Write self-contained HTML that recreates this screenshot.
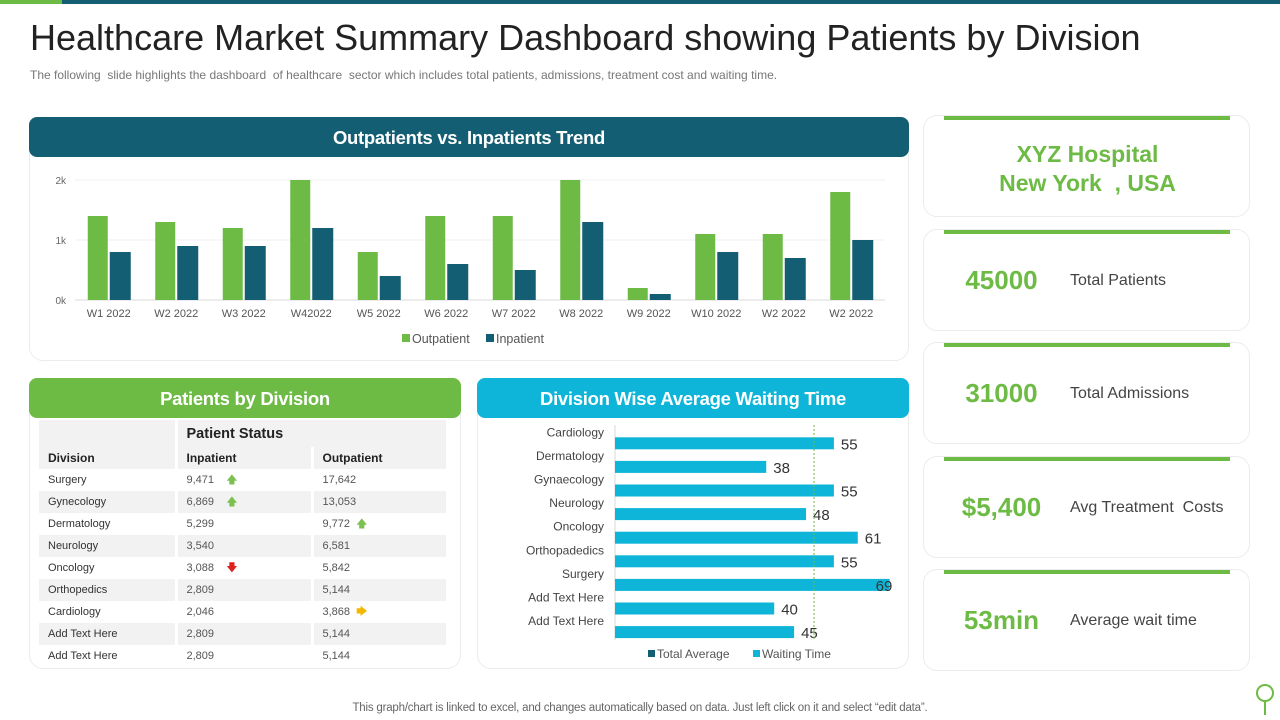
<!DOCTYPE html>
<html><head><meta charset="utf-8">
<style>
*{margin:0;padding:0;box-sizing:border-box}
body{width:1280px;height:720px;background:#fff;position:relative;overflow:hidden;font-family:"Liberation Sans",sans-serif;color:#333}
.abs{position:absolute}
.card{position:absolute;border:1px solid #ececec;border-radius:14px;background:#fff}
.hdr{position:absolute;color:#fff;font-weight:bold;font-size:18.5px;text-align:center;border-radius:8px;letter-spacing:-0.3px}
table{border-collapse:collapse;font-size:11px}
td{height:22px;padding-left:9px;border-right:3px solid #fff}
.kv{position:absolute;left:923px;width:327px;height:102px}
.kv .bar{position:absolute;left:20px;width:286px;top:0;height:4px;background:#6dba45}
.kv .num{position:absolute;left:0;width:155px;text-align:center;top:35px;font-size:26px;font-weight:bold;color:#6dba45}
.kv .lbl{position:absolute;left:146px;top:42px;font-size:16px;color:#444}
</style></head><body>
<div class="abs" style="left:0;top:0;width:62px;height:4px;background:#6dba45"></div>
<div class="abs" style="left:62px;top:0;width:1218px;height:4px;background:#135e72"></div>
<div class="abs" style="left:30px;top:17px;font-size:36px;color:#222;white-space:nowrap;">Healthcare Market Summary Dashboard showing Patients by Division</div>
<div class="abs" style="left:30px;top:68px;font-size:12px;color:#777;white-space:nowrap">The following &nbsp;slide highlights the dashboard &nbsp;of healthcare &nbsp;sector which includes total patients, admissions, treatment cost and waiting time.</div>

<div class="card" style="left:29px;top:120px;width:880px;height:241px"></div>
<div class="hdr" style="left:29px;top:117px;width:880px;height:40px;line-height:42px;background:#135e72">Outpatients vs. Inpatients Trend</div>
<svg class="abs" id="trend" style="left:0;top:0" width="920" height="360"></svg>

<div class="card" style="left:29px;top:385px;width:432px;height:284px"></div>
<div class="hdr" style="left:29px;top:378px;width:432px;height:40px;line-height:41px;background:#6dba45">Patients by Division</div>
<table class="abs" style="left:39px;top:420px;width:410px">
<tr style="background:#f2f2f2;height:27px"><td style="height:27px"></td><td colspan="2" style="font-weight:bold;font-size:14.5px;color:#222">Patient Status</td></tr>
<tr style="background:#f2f2f2;font-weight:bold;color:#222;font-size:12px"><td style="height:21px;width:137px">Division</td><td style="width:136px">Inpatient</td><td>Outpatient</td></tr>
<tr><td>Surgery</td><td style="color:#555">9,471 &nbsp;&nbsp;&nbsp;<span style="color:#7cc04f">🡅</span></td><td style="color:#555">17,642</td></tr>
<tr style="background:#f2f2f2"><td>Gynecology</td><td style="color:#555">6,869 &nbsp;&nbsp;&nbsp;<span style="color:#7cc04f">🡅</span></td><td style="color:#555">13,053</td></tr>
<tr><td>Dermatology</td><td style="color:#555">5,299</td><td style="color:#555">9,772 &nbsp;<span style="color:#7cc04f">🡅</span></td></tr>
<tr style="background:#f2f2f2"><td>Neurology</td><td style="color:#555">3,540</td><td style="color:#555">6,581</td></tr>
<tr><td>Oncology</td><td style="color:#555">3,088 &nbsp;&nbsp;&nbsp;<span style="color:#e02020">🡇</span></td><td style="color:#555">5,842</td></tr>
<tr style="background:#f2f2f2"><td>Orthopedics</td><td style="color:#555">2,809</td><td style="color:#555">5,144</td></tr>
<tr><td>Cardiology</td><td style="color:#555">2,046</td><td style="color:#555">3,868 &nbsp;<span style="color:#f5b800">🡆</span></td></tr>
<tr style="background:#f2f2f2"><td>Add Text Here</td><td style="color:#555">2,809</td><td style="color:#555">5,144</td></tr>
<tr><td>Add Text Here</td><td style="color:#555">2,809</td><td style="color:#555">5,144</td></tr>
</table>

<div class="card" style="left:477px;top:385px;width:432px;height:284px"></div>
<div class="hdr" style="left:477px;top:378px;width:432px;height:40px;line-height:41px;background:#0fb5d8">Division Wise Average Waiting Time</div>
<svg class="abs" id="wait" style="left:0;top:0" width="920" height="680"></svg>

<div class="card kv" style="top:115px"><div class="bar"></div><div class="abs" style="left:0;width:327px;top:24px;text-align:center;color:#6dba45;font-weight:bold;font-size:23px;line-height:29px">XYZ Hospital<br>New York &nbsp;, USA</div></div>
<div class="card kv" style="top:229px"><div class="bar"></div><div class="num">45000</div><div class="lbl">Total Patients</div></div>
<div class="card kv" style="top:342px"><div class="bar"></div><div class="num">31000</div><div class="lbl">Total Admissions</div></div>
<div class="card kv" style="top:456px"><div class="bar"></div><div class="num">$5,400</div><div class="lbl">Avg Treatment &nbsp;Costs</div></div>
<div class="card kv" style="top:569px"><div class="bar"></div><div class="num">53min</div><div class="lbl">Average wait time</div></div>

<div class="abs" style="left:0;width:1280px;top:702px;text-align:center;font-size:11.5px;color:#666;letter-spacing:-0.2px">This graph/chart is linked to excel, and changes automatically based on data. Just left click on it and select “edit data”.</div>
<svg class="abs" style="left:1254px;top:682px" width="24" height="36"><circle cx="11" cy="11" r="8" fill="none" stroke="#6dba45" stroke-width="2"/><path d="M11 19v14" stroke="#6dba45" stroke-width="2"/></svg>

<script>
const weeks=["W1 2022","W2 2022","W3 2022","W42022","W5 2022","W6 2022","W7 2022","W8 2022","W9 2022","W10 2022","W2 2022","W2 2022"];
const outpatient=[1400,1300,1200,2000,800,1400,1400,2000,200,1100,1100,1800];
const inpatient=[800,900,900,1200,400,600,500,1300,100,800,700,1000];
const yTicks=[0,1000,2000];
const yTickLabels=["0k","1k","2k"];
const divisions=["Cardiology","Dermatology","Gynaecology","Neurology","Oncology","Orthopadedics","Surgery","Add Text Here","Add Text Here"];
const waitTimes=[55,38,55,48,61,55,69,40,45];
const totalAverage=[50];
const NS="http://www.w3.org/2000/svg";
function mk(svg,tag,attrs,text){const e=document.createElementNS(NS,tag);for(const k in attrs)e.setAttribute(k,attrs[k]);if(text!==undefined)e.textContent=text;svg.appendChild(e);return e;}
const t=document.getElementById('trend');
const x0=75,x1=885,yb=300,yt=180,ymax=2000;
const yS=v=>yb-(v/ymax)*(yb-yt);
const gw=(x1-x0)/weeks.length;
yTicks.forEach((v,i)=>{
 const g=mk(t,'line',{x1:x0,x2:x1,y1:yS(v),y2:yS(v),stroke:i==0?'#d9d9d9':'#efefef'});
 
 const l=mk(t,'text',{x:66,y:yS(v)+4,'text-anchor':'end','font-size':10,fill:'#666'},yTickLabels[i]);
 
});
weeks.forEach((w,i)=>{
 const c=x0+gw*(i+0.5);
 const b1=mk(t,'rect',{x:c-21,y:yS(outpatient[i]),width:20,height:yb-yS(outpatient[i]),fill:'#6dba45'});
 
 const b2=mk(t,'rect',{x:c+1,y:yS(inpatient[i]),width:21,height:yb-yS(inpatient[i]),fill:'#135e72'});
 
 const l=mk(t,'text',{x:c,y:317,'text-anchor':'middle','font-size':11,fill:'#555'},w);
 
});
let lg=mk(t,'rect',{x:402,y:334,width:8,height:8,fill:'#6dba45'});
lg=mk(t,'text',{x:412,y:343,'font-size':12.5,fill:'#555'},'Outpatient');
lg=mk(t,'rect',{x:486,y:334,width:8,height:8,fill:'#135e72'});
lg=mk(t,'text',{x:496,y:343,'font-size':12.5,fill:'#555'},'Inpatient');
const w=document.getElementById('wait');
const wx0=615,ppu=3.98,rt=431.5,rh=23.6;
const wX=v=>wx0+v*ppu;
let ax=mk(w,'line',{x1:wx0,x2:wx0,y1:425,y2:640,stroke:'#d9d9d9'});
divisions.forEach((d,i)=>{
 const cy=rt+rh*(i+0.5);
 const b=mk(w,'rect',{x:wx0,y:cy-6,width:wX(waitTimes[i])-wx0,height:12,fill:'#0fb5d8'});
 
 const l=mk(w,'text',{x:604,y:cy-7,'text-anchor':'end','font-size':12,fill:'#444'},d);
 
 const v=mk(w,'text',{x:wX(waitTimes[i])+(waitTimes[i]>65?-14:7),y:cy+6,'font-size':15,fill:'#333'},waitTimes[i]);
 
});
const av=mk(w,'line',{x1:wX(totalAverage[0]),x2:wX(totalAverage[0]),y1:425,y2:640,stroke:'#6dba45','stroke-dasharray':'2,2'});

lg=mk(w,'rect',{x:648,y:650,width:7,height:7,fill:'#135e72'});
lg=mk(w,'text',{x:657,y:658,'font-size':12,fill:'#555'},'Total Average');
lg=mk(w,'rect',{x:753,y:650,width:7,height:7,fill:'#0fb5d8'});
lg=mk(w,'text',{x:762,y:658,'font-size':12,fill:'#555'},'Waiting Time');
</script>
</body></html>
